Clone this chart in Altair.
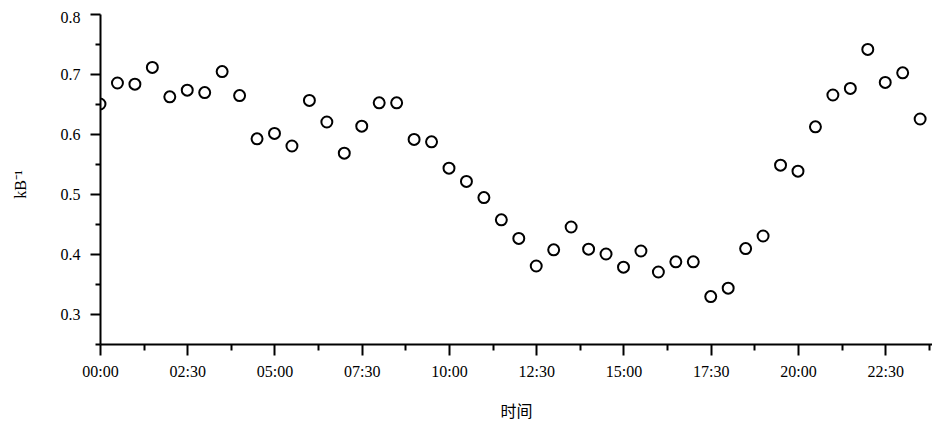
import altair as alt
import pandas as pd

hours = [i * 0.5 for i in range(48)]
kb_inv = [0.650, 0.685, 0.683, 0.711, 0.662, 0.673, 0.669, 0.704, 0.664, 0.592,
          0.601, 0.580, 0.656, 0.620, 0.568, 0.613, 0.652, 0.652, 0.591, 0.587,
          0.543, 0.521, 0.494, 0.457, 0.426, 0.380, 0.407, 0.445, 0.408, 0.400,
          0.378, 0.405, 0.370, 0.387, 0.387, 0.329, 0.343, 0.409, 0.430, 0.548,
          0.538, 0.612, 0.665, 0.676, 0.741, 0.686, 0.702, 0.625]

x_ticks = [i * 1.25 for i in range(20)]
y_ticks = [round(0.25 + i * 0.05, 2) for i in range(12)]

df = pd.DataFrame({"hour": hours, "kb": kb_inv})

FONT = "Liberation Serif, Noto Sans CJK SC"

x_label = ("(datum.value % 2.5 == 0) ? ((floor(datum.value) < 10 ? '0' : '') + floor(datum.value)"
           " + ':' + (datum.value % 1 == 0 ? '00' : '30')) : ''")
y_label = "(round(datum.value * 100) % 10 == 0) ? format(datum.value, '.1f') : ''"

chart = alt.Chart(df).mark_point(
    shape="circle", filled=False, color="black", strokeWidth=2, size=120, clip=True, opacity=1
).encode(
    x=alt.X("hour:Q", scale=alt.Scale(domain=[0, 23.84], nice=False, zero=False),
            axis=alt.Axis(values=x_ticks, labelExpr=x_label, title="时间",
                          grid=False, labelFlush=False, labelOverlap=False,
                          tickSize={"condition": {"test": "datum.value % 2.5 == 0", "value": 11}, "value": 6},
                          labelPadding=8, titlePadding=24,
                          titleFont=FONT, titleFontSize=16, titleFontWeight="normal",
                          labelFont=FONT, labelFontSize=16, labelColor="black", titleColor="black",
                          domainColor="black", domainWidth=2, tickColor="black", tickWidth=2)),
    y=alt.Y("kb:Q", scale=alt.Scale(domain=[0.25, 0.8], nice=False, zero=False),
            axis=alt.Axis(values=y_ticks, labelExpr=y_label, title="kB⁻¹",
                          grid=False, labelFlush=False, labelOverlap=False,
                          tickSize={"condition": {"test": "round(datum.value * 100) % 10 == 0", "value": 10}, "value": 5},
                          labelOffset={"condition": {"test": "datum.value > 0.79", "value": 3}, "value": 0},
                          labelPadding=10, titlePadding=32, titleY=170,
                          titleFont=FONT, titleFontSize=16, titleFontWeight="normal",
                          labelFont=FONT, labelFontSize=16, labelColor="black", titleColor="black",
                          domainColor="black", domainWidth=2, tickColor="black", tickWidth=2)),
).properties(
    width=832, height=330,
    autosize=alt.AutoSizeParams(type="none"),
    padding={"left": 92, "top": 6, "right": 0, "bottom": 75},
).configure_view(stroke=None)

chart.save("out.html", embed_options={"renderer": "svg", "actions": False})
